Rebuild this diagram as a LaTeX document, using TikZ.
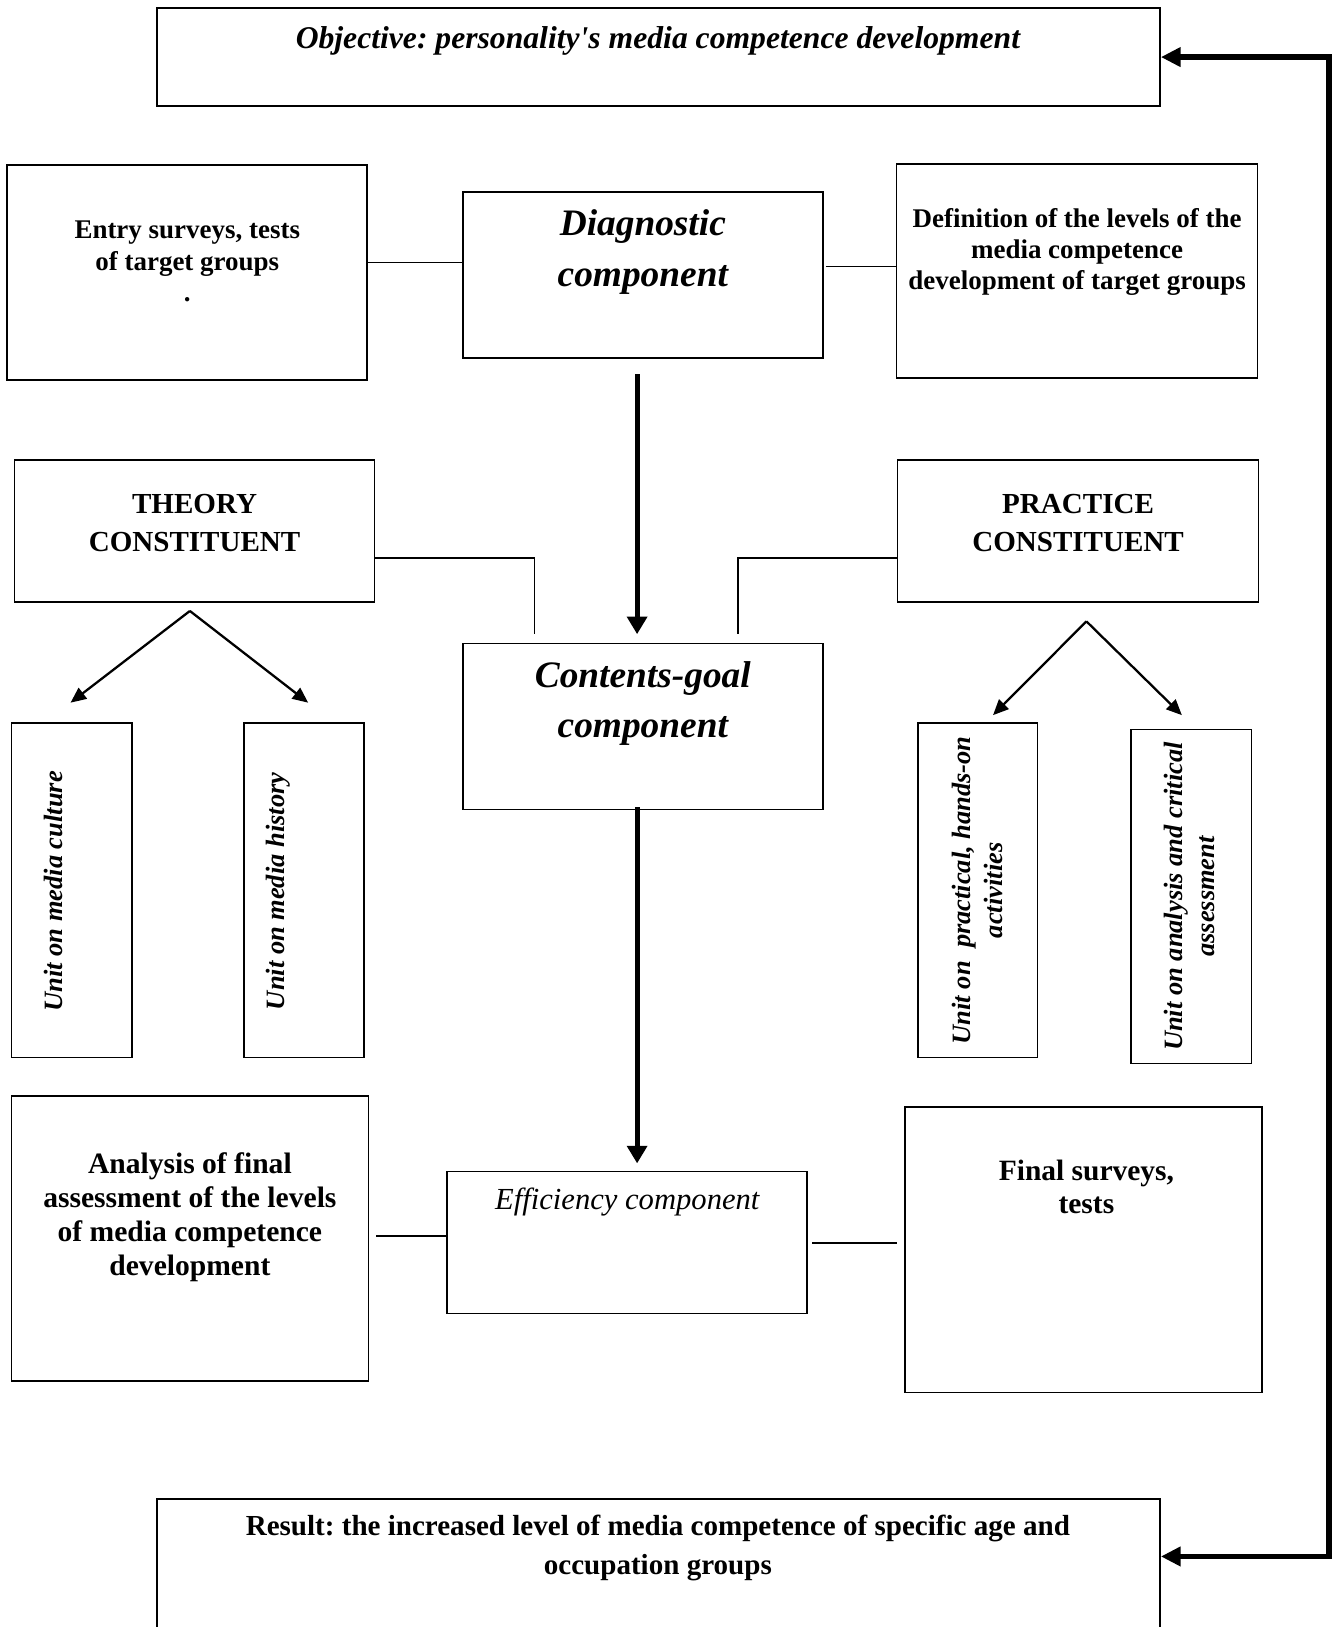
\documentclass[tikz,border=0pt]{standalone}
\usepackage{fontspec}
\setmainfont{Liberation Serif}
\usetikzlibrary{arrows.meta}
\frenchspacing

\begin{document}
\begin{tikzpicture}[x=1pt, y=-1pt,
	box/.style={draw, line width=1.6pt, inner sep=0pt},
	txt/.style={align=center, inner sep=0pt, font=\bfseries\fontsize{26}{30}\selectfont},
	comp/.style={align=center, inner sep=0pt, font=\bfseries\itshape\fontsize{36}{49}\selectfont},
	unittxt/.style={align=center, inner sep=0pt, rotate=90, font=\bfseries\itshape\fontsize{25.5}{31}\selectfont},
	link/.style={line width=1.5pt},
	bigarrow/.style={line width=5pt, -{Triangle[length=17pt,width=19pt]}},
	split/.style={line width=2.2pt, -{Triangle[length=15pt,width=13pt]}},
	loop/.style={line width=5pt, {Triangle[length=19pt,width=18pt]}-{Triangle[length=19pt,width=18pt]}}]
	\useasboundingbox (0,0) rectangle (1286,1568);

	\node[box, minimum width=967pt, minimum height=94pt] (obj) at (634.5,55) {};
	\node[txt, font=\bfseries\itshape\fontsize{30.5}{30}\selectfont] (objtxt) at (634,39) {Objective: personality\textquotesingle s media competence development};

	\node[box, minimum width=347pt, minimum height=207pt] (entry) at (180.5,262.5) {};
	\node[txt] (entrytxt) at (180.5,252) {Entry surveys, tests\\of target groups\\.};
	\node[box, minimum width=347pt, minimum height=160pt] (diag) at (619.5,265) {};
	\node[comp] (diagtxt) at (619.5,243) {Diagnostic\\component};
	\node[box, minimum width=348pt, minimum height=206pt] (defn) at (1038,261) {};
	\node[txt] (defntxt) at (1038,243) {Definition of the levels of the\\media competence\\development of target groups};

	\node[box, minimum width=347pt, minimum height=137pt] (theory) at (187.5,511.5) {};
	\node[txt, font=\bfseries\fontsize{28}{37}\selectfont] (theorytxt) at (187.5,504) {THEORY\\CONSTITUENT};
	\node[box, minimum width=348pt, minimum height=137pt] (practice) at (1039,511.5) {};
	\node[txt, font=\bfseries\fontsize{28}{37}\selectfont] (practicetxt) at (1039,504) {PRACTICE\\CONSTITUENT};

	\node[box, minimum width=347pt, minimum height=160pt] (contents) at (619.5,700) {};
	\node[comp] (contentstxt) at (619.5,678) {Contents-goal\\component};

	\node[box, minimum width=116pt, minimum height=322pt] (culture) at (69,858) {};
	\node[unittxt] (culturetxt) at (52,859) {Unit on media culture};
	\node[box, minimum width=116pt, minimum height=322pt] (history) at (293,858) {};
	\node[unittxt] (historytxt) at (268,859) {Unit on media history};
	\node[box, minimum width=115pt, minimum height=322pt] (practical) at (942.5,858) {};
	\node[unittxt] (practicaltxt) at (942,858) {Unit on\ \ practical, hands-on\\activities};
	\node[box, minimum width=116pt, minimum height=322pt] (critical) at (1148,864) {};
	\node[unittxt] (criticaltxt) at (1146,864) {Unit on analysis and critical\\assessment};

	\node[box, minimum width=344pt, minimum height=275pt] (analysis) at (183,1193.5) {};
	\node[txt, font=\bfseries\fontsize{28.5}{33}\selectfont] (analysistxt) at (183,1173) {Analysis of final\\assessment of the levels\\of media competence\\development};
	\node[box, minimum width=347pt, minimum height=137pt] (effic) at (604.5,1197.5) {};
	\node[txt, font=\itshape\fontsize{29.5}{30}\selectfont] (effictxt) at (604.5,1158) {Efficiency component};
	\node[box, minimum width=344pt, minimum height=275pt] (final) at (1044,1204.5) {};
	\node[txt, font=\bfseries\fontsize{28.4}{32}\selectfont] (finaltxt) at (1047,1144) {Final surveys,\\tests};

	\node[box, minimum width=967pt, minimum height=175pt] (res) at (634.5,1532) {};
	\node[txt, font=\bfseries\fontsize{28}{37}\selectfont] (restxt) at (634,1492) {Result: the increased level of media competence of specific age and\\occupation groups};

	\draw[link] ([yshift=9.5]entry.east) -- ([yshift=9.5]entry.east -| diag.west);
	\draw[link] ([xshift=2,yshift=8]diag.east) -- ([yshift=8]diag.east -| defn.west);
	\draw[link] ([yshift=-26.5]theory.east) -| ([xshift=-104.5,yshift=8]contents.north);
	\draw[link] ([yshift=-26.5]practice.west) -| ([xshift=91.5,yshift=8]contents.north);
	\draw[link] ([xshift=7,yshift=2.5]analysis.east) -- ([yshift=2.5]analysis.east -| effic.west);
	\draw[link, shorten >=7pt] ([xshift=4,yshift=-0.5]effic.east) -- ([yshift=-0.5]effic.east -| final.west);

	\draw[bigarrow] ([xshift=-5.5,yshift=-15]diag.south) -- ([xshift=-5.5,yshift=8]contents.north);
	\draw[bigarrow] ([xshift=-5.5,yshift=3]contents.south) -- ([xshift=9.5,yshift=7]effic.north);

	\draw[split] ([xshift=-4.5,yshift=-8]theory.south) -- ([xshift=-1,yshift=19]culture.north);
	\draw[split] ([xshift=-4.5,yshift=-8]theory.south) -- ([xshift=4,yshift=19]history.north);
	\draw[split] ([xshift=8,yshift=-18]practice.south) -- ([xshift=14.5,yshift=7]practical.north);
	\draw[split] ([xshift=8,yshift=-18]practice.south) -- ([xshift=-9,yshift=13]critical.north);

	\draw[loop] (obj.east) -- ++(162,0) |- ([yshift=32]res.east);
\end{tikzpicture}
\end{document}
